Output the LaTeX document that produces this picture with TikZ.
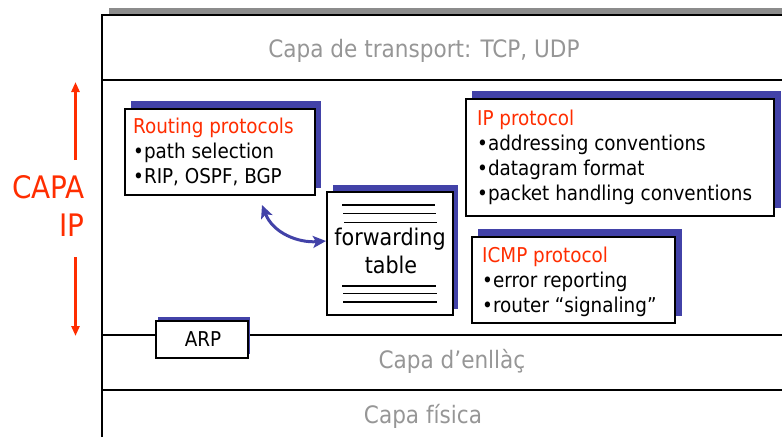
\documentclass[tikz,border=0pt]{standalone}
\usepackage{fontspec}
\setmainfont{DejaVu Sans Condensed}
\usetikzlibrary{arrows.meta}
\definecolor{ipblue}{RGB}{66,66,168}
\definecolor{capared}{RGB}{255,45,0}
\definecolor{layergray}{RGB}{150,150,150}
\definecolor{bargray}{RGB}{140,140,140}
\tikzset{
  frameline/.style={line width=2pt, black},
  layertext/.style={text=layergray, font=\fontsize{24}{28}\selectfont, inner sep=0pt, anchor=base},
  bodytext/.style={font=\fontsize{20.4}{24}\selectfont, inner sep=0pt, anchor=base west},
  headtext/.style={bodytext, text=capared},
  shadowbox/.style={fill=ipblue, draw=none, inner sep=0pt, anchor=north west},
  protobox/.style={draw=black, line width=2pt, fill=white, inner sep=0pt, anchor=north west},
  tableline/.style={line width=1.8pt, black},
  redarrow/.style={line width=3pt, capared, -{Triangle[length=10pt,width=8pt]}},
  bluearrow/.style={line width=3pt, ipblue, {Stealth[length=13pt,width=12pt,inset=3pt]}-{Stealth[length=13pt,width=12pt,inset=3pt]}},
}
\begin{document}
\begin{tikzpicture}[x=1pt,y=-1pt]
\useasboundingbox (0,0) rectangle (782,437);

% layer frame with its gray top edge
\fill[bargray] (109,8) rectangle (782,13.5);
\draw[frameline] (102,437) -- (102,14.5) -- (782,14.5);
\draw[frameline] (102,80) -- (782,80);
\draw[frameline] (102,335) -- (782,335);
\draw[frameline] (102,390) -- (782,390);

% layer names
\node[layertext] (transport) at (424,57) {Capa de transport: TCP, UDP};
\node[layertext] (link) at (452,368) {Capa d’enllàç};
\node[layertext] (phys) at (423,423) {Capa física};

% IP layer label with its extent arrows
\node[font=\fontsize{31}{35}\selectfont, text=capared, inner sep=0pt, anchor=base east] (capa) at (85,198) {CAPA};
\node[font=\fontsize{31}{35}\selectfont, text=capared, inner sep=0pt, anchor=base east] (ip) at (85,236) {IP};
\coordinate (uplow) at (75.5,160);
\coordinate (uphigh) at (75.5,82);
\coordinate (downhigh) at (75.5,257);
\coordinate (downlow) at (75.5,336);
\draw[redarrow] (uplow) -- (uphigh);
\draw[redarrow] (downhigh) -- (downlow);

% routing protocols
\node[shadowbox, minimum width=190pt, minimum height=87pt] (routingsh) at (131,101) {};
\node[protobox, minimum width=190pt, minimum height=86pt] (routing) at (124,108) {};
\node[headtext] (routingt) at (133,133) {Routing protocols};
\node[bodytext] (routing1) at (133,158) {•path selection};
\node[bodytext] (routing2) at (133,183) {•RIP, OSPF, BGP};

% IP protocol
\node[shadowbox, minimum width=309pt, minimum height=117pt] (ipsh) at (472,91) {};
\node[protobox, minimum width=308pt, minimum height=117pt] (ipbox) at (465,98) {};
\node[headtext] (ipt) at (477,125) {IP protocol};
\node[bodytext] (ip1) at (477,150) {•addressing conventions};
\node[bodytext] (ip2) at (477,175) {•datagram format};
\node[bodytext] (ip3) at (477,200) {•packet handling conventions};

% forwarding table
\node[shadowbox, minimum width=125pt, minimum height=124pt] (fwdsh) at (333,185) {};
\node[protobox, minimum width=126pt, minimum height=123pt] (fwd) at (326,191) {};
\draw[tableline] (342,205) -- (435,205);
\draw[tableline] (343,213.5) -- (436,213.5);
\draw[tableline] (344,222.5) -- (437,222.5);
\draw[tableline] (342,286) -- (436,286);
\draw[tableline] (343,293.5) -- (437,293.5);
\draw[tableline] (343,302) -- (437,302);
\node[font=\fontsize{23}{27}\selectfont, inner sep=0pt, anchor=base] (fwd1) at (390,245) {forwarding};
\node[font=\fontsize{23}{27}\selectfont, inner sep=0pt, anchor=base] (fwd2) at (391,273) {table};

% routing <-> forwarding table
\coordinate (rtend) at (262,205);
\coordinate (fwdend) at (326,241);
\draw[bluearrow] (rtend) .. controls (273,233) and (298,243) .. (fwdend);

% ICMP protocol
\node[shadowbox, minimum width=204pt, minimum height=87pt] (icmpsh) at (478,229) {};
\node[protobox, minimum width=203pt, minimum height=86pt] (icmp) at (471,236) {};
\node[headtext] (icmpt) at (482,262) {ICMP protocol};
\node[bodytext] (icmp1) at (482,287) {•error reporting};
\node[bodytext] (icmp2) at (482,312) {•router “signaling”};

% ARP
\node[shadowbox, minimum width=92pt, minimum height=37pt] (arpsh) at (158,317) {};
\node[protobox, minimum width=92pt, minimum height=37pt] (arp) at (155,320) {};
\node[bodytext, anchor=base] (arpt) at (203,346) {ARP};
\end{tikzpicture}
\end{document}
